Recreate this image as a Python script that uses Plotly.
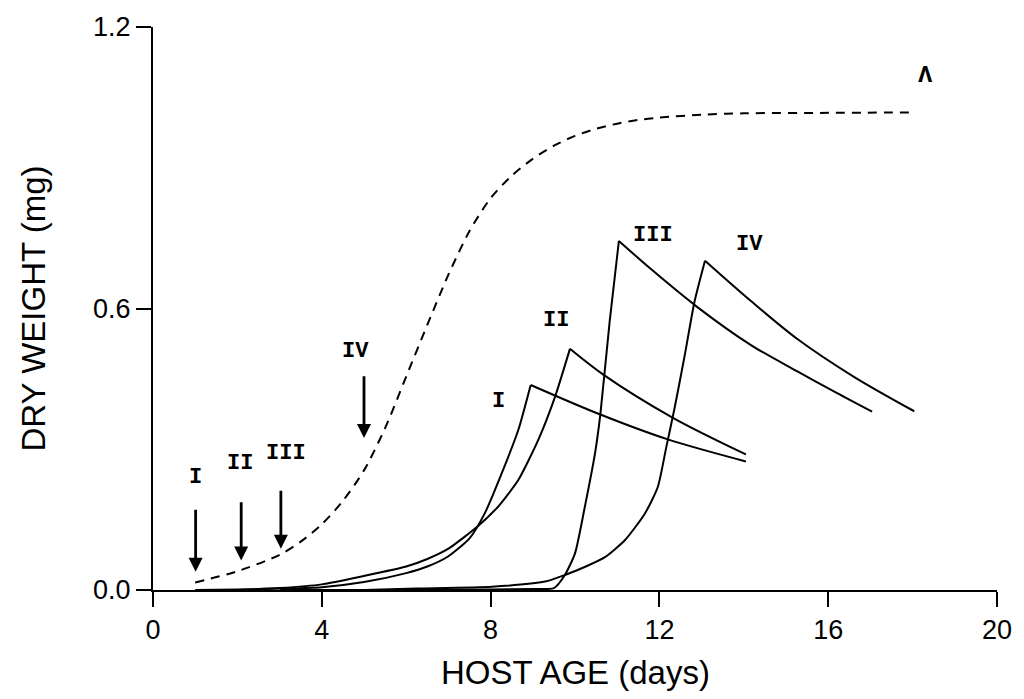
import plotly.graph_objects as go

# Host (dashed curve, "A")
host_x = [1.0, 2.0, 3.0, 3.5, 4.0, 4.5, 5.0, 5.5, 6.0, 6.5, 7.0, 7.5, 8.0, 8.5, 9.0, 9.5, 10.0,
          10.5, 11.0, 11.5, 12.0, 13.0, 14.0, 16.0, 18.0]
host_y = [0.016, 0.040, 0.075, 0.103, 0.140, 0.190, 0.255, 0.345, 0.455, 0.565, 0.672, 0.765, 0.835,
          0.883, 0.919, 0.947, 0.968, 0.983, 0.994, 1.002, 1.007, 1.013, 1.016, 1.017, 1.018]

# Parasitoid curves for infections at I..IV
I_x = [1.0, 2.0, 3.0, 4.0, 5.0, 6.0, 6.5, 7.0, 7.5, 7.87, 8.26, 8.66, 8.95, 10.6, 12.2, 14.05]
I_y = [0.0, 0.001, 0.003, 0.006, 0.017, 0.036, 0.05, 0.072, 0.11, 0.165, 0.248, 0.342, 0.437,
       0.374, 0.321, 0.274]

II_x = [2.0, 3.0, 4.0, 5.0, 6.0, 6.5, 7.0, 7.71, 8.2, 8.66, 9.13, 9.52, 9.88, 10.67, 12.32, 14.05]
II_y = [0.0, 0.004, 0.012, 0.03, 0.05, 0.066, 0.088, 0.137, 0.18, 0.235, 0.32, 0.41, 0.514,
        0.459, 0.367, 0.289]

III_x = [3.0, 6.0, 8.0, 9.0, 9.5, 9.76, 10.0, 10.23, 10.47, 10.6, 10.82, 11.04, 11.8, 12.9, 14.17,
         15.27, 16.2, 17.04]
III_y = [0.0, 0.0, 0.001, 0.002, 0.004, 0.032, 0.078, 0.176, 0.289, 0.374, 0.571, 0.744, 0.684,
         0.603, 0.522, 0.466, 0.42, 0.38]

IV_x = [5.0, 6.25, 8.03, 9.29, 9.76, 10.23, 10.71, 11.18, 11.65, 11.96, 12.16, 12.36, 12.6, 12.83,
        13.08, 14.17, 15.27, 16.6, 18.04]
IV_y = [0.0, 0.003, 0.007, 0.018, 0.032, 0.049, 0.07, 0.106, 0.162, 0.219, 0.303, 0.388, 0.5, 0.614,
        0.702, 0.616, 0.535, 0.455, 0.381]

# Infection arrows (day, arrow top, arrow tip) and their labels
arrow_names = ["I", "II", "III", "IV"]
arrow_day = [1.01, 2.09, 3.03, 5.0]
arrow_top = [0.174, 0.19, 0.215, 0.459]
arrow_tip = [0.039, 0.063, 0.088, 0.324]
arrow_lab_x = [1.01, 2.06, 3.14, 4.79]
arrow_lab_y = [0.239, 0.269, 0.292, 0.508]

# Curve labels
curve_names = ["I", "II", "III", "IV", "Λ"]
curve_lab_x = [8.19, 9.56, 11.85, 14.13, 18.3]
curve_lab_y = [0.402, 0.575, 0.756, 0.737, 1.096]

x_ticks = [0, 4, 8, 12, 16, 20]
y_ticks = [0.0, 0.6, 1.2]
y_tick_text = ["0.0", "0.6", "1.2"]

fig = go.Figure()
fig.add_trace(go.Scatter(x=host_x, y=host_y, mode="lines",
                         line=dict(color="black", width=2, dash="9px,7px", shape="spline", smoothing=0.8)))
for xs, ys in [(I_x, I_y), (II_x, II_y), (III_x, III_y), (IV_x, IV_y)]:
    k = ys.index(max(ys))
    # rising phase and declining phase, joined at the sharp peak
    fig.add_trace(go.Scatter(x=xs[:k + 1], y=ys[:k + 1], mode="lines",
                             line=dict(color="black", width=2, shape="spline", smoothing=0.6)))
    fig.add_trace(go.Scatter(x=xs[k:], y=ys[k:], mode="lines",
                             line=dict(color="black", width=2, shape="spline", smoothing=0.9)))

mono = dict(family="Liberation Mono", size=22, color="black")
ann = []
for n, d, t, b, lx, ly in zip(arrow_names, arrow_day, arrow_top, arrow_tip, arrow_lab_x, arrow_lab_y):
    ann.append(dict(x=d, y=b, ax=d, ay=t, xref="x", yref="y", axref="x", ayref="y",
                    showarrow=True, arrowhead=2, arrowsize=1.0, arrowwidth=2.8,
                    arrowcolor="black", text=""))
    ann.append(dict(x=lx, y=ly, xref="x", yref="y", text="<b>" + n + "</b>",
                    showarrow=False, font=mono))
for n, lx, ly in zip(curve_names, curve_lab_x, curve_lab_y):
    f = mono if n != "Λ" else dict(family="Liberation Mono", size=24, color="black")
    ann.append(dict(x=lx, y=ly, xref="x", yref="y", text="<b>" + n + "</b>",
                    showarrow=False, font=f))

title_font = dict(family="Liberation Sans", size=33, color="black")
ann.append(dict(x=0.5, y=0, xref="paper", yref="paper", yshift=-82, yanchor="middle",
                text="HOST AGE (days)", showarrow=False, font=title_font))
ann.append(dict(x=0, y=0.5, xref="paper", yref="paper", xshift=-120, xanchor="center",
                text="DRY WEIGHT (mg)", textangle=-90, showarrow=False, font=title_font))

fig.update_layout(
    width=1024, height=699,
    margin=dict(l=153, r=24, t=23, b=109),
    paper_bgcolor="white", plot_bgcolor="white",
    showlegend=False,
    annotations=ann,
    font=dict(family="Liberation Sans", color="black"),
)
fig.update_xaxes(range=[0, 20], tickvals=x_ticks, ticks="outside", ticklen=15, tickwidth=2,
                 tickcolor="black", showline=True, linewidth=2, linecolor="black",
                 showgrid=False, zeroline=False, tickfont=dict(size=27, family="Liberation Sans"))
fig.update_yaxes(range=[0, 1.2], tickvals=y_ticks, ticktext=y_tick_text, ticks="outside",
                 ticklen=15, tickwidth=2, tickcolor="black", showline=True, linewidth=2,
                 linecolor="black", showgrid=False, zeroline=False,
                 tickfont=dict(size=27, family="Liberation Sans"))

fig.write_html("out.html", config={"displayModeBar": False})
